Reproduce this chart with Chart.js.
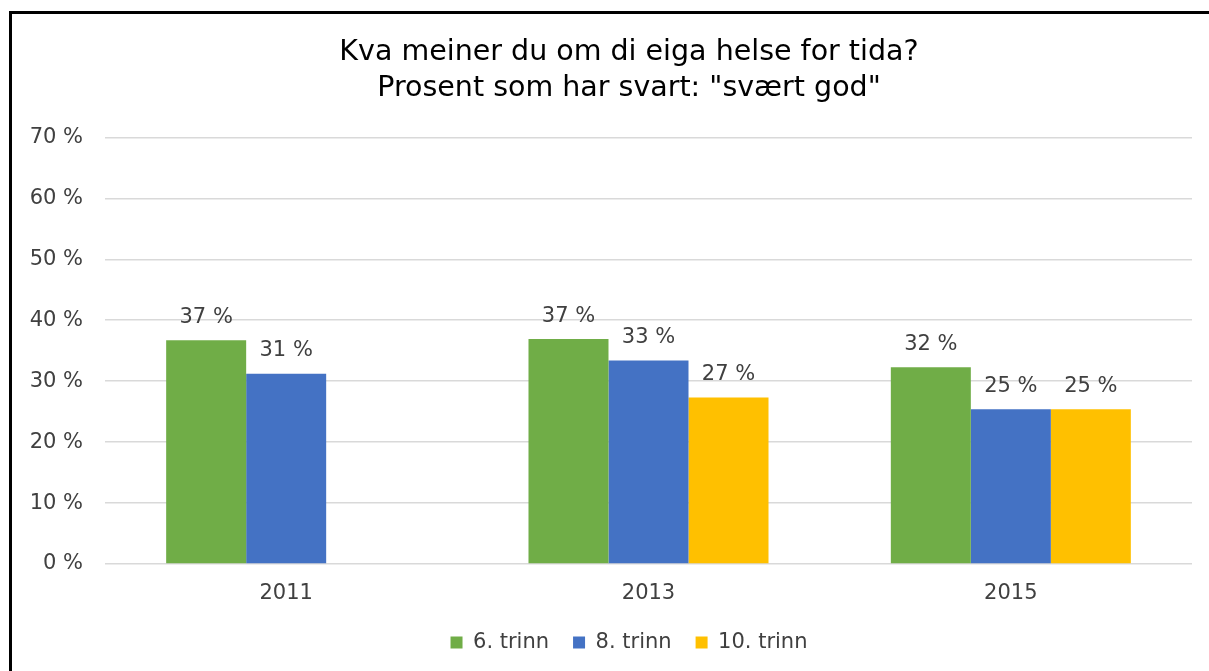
<!DOCTYPE html>
<html>
<head>
<meta charset="utf-8">
<script src="https://cdn.jsdelivr.net/npm/chart.js@4"></script>
<style>
  html, body { margin: 0; padding: 0; background: #fff; overflow: hidden; }
  #wrap { position: absolute; left: 0; top: 0; width: 1209px; height: 671px; }
  #frame {
    position: absolute; left: 9px; top: 11px; width: 1240px; height: 680px;
    border-left: 3px solid #000; border-top: 3px solid #000; pointer-events: none;
  }
</style>
</head>
<body>
<div id="wrap"><canvas id="chart"></canvas></div>
<div id="frame"></div>
<script>
const years = ['2011', '2013', '2015'];
const trinn6 = [36.7, 36.9, 32.3];
const trinn8 = [31.2, 33.4, 25.4];
const trinn10 = [null, 27.3, 25.4];
const yTicks = [0, 10, 20, 30, 40, 50, 60, 70];

const TEXT = '#404040';
const FONT = 'DejaVu Sans, Verdana, sans-serif';
const TITLE_SHIFT = 42;   // Excel centres title/legend over a wider box than the plot
const LEGEND_TRIM = 7;    // legend sits closer to the axis labels than Chart.js allows

const tweaks = {
    id: 'tweaks',
    afterInit(chart) {
        const lg = chart.legend;
        if (!lg) return;
        const fit = lg.fit.bind(lg);
        lg.fit = function () { fit(); this.height -= LEGEND_TRIM; };
    },
    beforeDraw(chart) {
        [chart.titleBlock, chart.legend].forEach(box => {
            if (!box || box._shifted) return;
            box.left += TITLE_SHIFT;
            box.width = box.right - box.left;
            box._shifted = true;
        });
        const lg = chart.legend;
        if (lg && !lg._lifted) {
            lg.top -= LEGEND_TRIM;
            lg.bottom -= LEGEND_TRIM;
            lg._lifted = true;
        }
    },
    // labels above bars, rounded like Excel shows them
    afterDatasetsDraw(chart) {
        const ctx = chart.ctx;
        ctx.save();
        ctx.fillStyle = TEXT;
        ctx.font = `21px ${FONT}`;
        ctx.textAlign = 'center';
        ctx.textBaseline = 'middle';
        chart.data.datasets.forEach((ds, i) => {
            chart.getDatasetMeta(i).data.forEach((bar, j) => {
                const v = ds.data[j];
                if (v == null) return;
                ctx.fillText(Math.round(v) + ' %', bar.x, bar.y - 23);
            });
        });
        ctx.restore();
    },
};

new Chart(document.getElementById('chart'), {
    type: 'bar',
    data: {
        labels: years,
        datasets: [
            { label: '6. trinn', data: trinn6, backgroundColor: '#70AD47' },
            { label: '8. trinn', data: trinn8, backgroundColor: '#4472C4' },
            { label: '10. trinn', data: trinn10, backgroundColor: '#FFC000' },
        ],
    },
    options: {
        responsive: true,
        maintainAspectRatio: false,
        animation: false,
        categoryPercentage: 0.6624,
        barPercentage: 1,
        layout: { padding: { left: 24, right: 17, top: 14, bottom: 8 } },
        plugins: {
            title: {
                display: true,
                text: ['Kva meiner du om di eiga helse for tida?', 'Prosent som har svart: "svært god"'],
                color: '#000',
                font: { family: FONT, size: 28.5, weight: 'normal', lineHeight: 1.27 },
                padding: { top: 20, bottom: 31 },
            },
            legend: {
                position: 'bottom',
                labels: {
                    color: TEXT,
                    font: { family: FONT, size: 21, lineHeight: 1 },
                    boxWidth: 12,
                    boxHeight: 12,
                    padding: 24,
                },
            },
            tooltip: { enabled: false },
        },
        scales: {
            x: {
                grid: { display: false },
                border: { display: false },
                ticks: { color: TEXT, font: { family: FONT, size: 21, lineHeight: 1 }, padding: 11 },
            },
            y: {
                min: 0,
                max: 70,
                afterBuildTicks: (axis) => { axis.ticks = yTicks.map(v => ({ value: v })); },
                afterFit: (axis) => { axis.width = 81; },
                grid: { color: '#d9d9d9', lineWidth: 1.5, drawTicks: false },
                border: { display: false },
                ticks: { color: TEXT, font: { family: FONT, size: 21 }, padding: 22, callback: v => v + ' %' },
            },
        },
    },
    plugins: [tweaks],
});
</script>
</body>
</html>
